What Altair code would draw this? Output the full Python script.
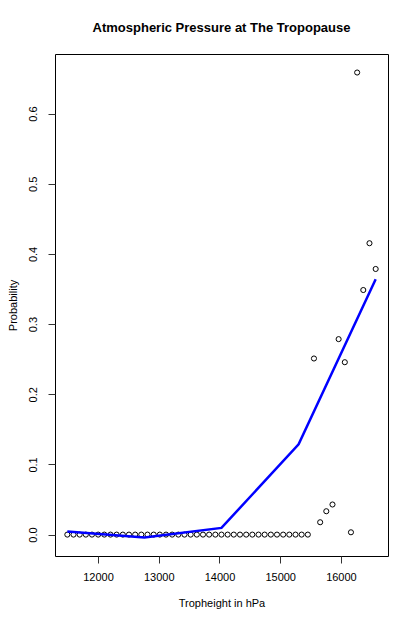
import altair as alt
import pandas as pd

# Observed points: tropopause height (x) and probability (y)
trop_height = [11495, 11597, 11698, 11800, 11901, 12003, 12104, 12206, 12307, 12409,
               12510, 12612, 12713, 12815, 12917, 13018, 13120, 13221, 13323, 13424,
               13526, 13627, 13729, 13830, 13932, 14033, 14135, 14236, 14338, 14440,
               14541, 14643, 14744, 14846, 14947, 15049, 15150, 15252, 15353, 15455,
               15556, 15658, 15759, 15861, 15962, 16064, 16165, 16267, 16368, 16470,
               16572]
probability = [0.0] * 40 + [0.251, 0.0176, 0.0333, 0.0429, 0.2786, 0.2457, 0.0033,
                            0.6586, 0.3486, 0.4153, 0.3786]

# Fitted curve (blue line)
fit_x = [11495, 12764, 14033, 15303, 16572]
fit_y = [0.0043, -0.004, 0.0096, 0.1286, 0.364]

x_ticks = [12000, 13000, 14000, 15000, 16000]
y_ticks = [0.0, 0.1, 0.2, 0.3, 0.4, 0.5, 0.6]

pts = pd.DataFrame({"x": trop_height, "y": probability})
fit = pd.DataFrame({"x": fit_x, "y": fit_y})

FONT = "Liberation Sans"

xscale = alt.Scale(domain=[11292, 16775], nice=False, zero=False)
yscale = alt.Scale(domain=[-0.0305, 0.685], nice=False, zero=False)

xaxis = alt.Axis(title="Tropheight in hPa", values=x_ticks, format="d", grid=False, domain=False,
                 tickSize=7, tickColor="#333333", labelPadding=8, labelFontSize=11,
                 labelFont=FONT, labelColor="#000000", titleFont=FONT, titleFontSize=11,
                 titleFontWeight="normal", titleColor="#000000", titlePadding=15,
                 labelFlush=False)
yaxis = alt.Axis(title="Probability", values=y_ticks, format=".1f", grid=False, domain=False,
                 tickSize=7, tickColor="#333333", labelPadding=10, labelFontSize=11,
                 labelFont=FONT, labelColor="#000000", labelAngle=270, labelAlign="center",
                 labelBaseline="bottom", titleFont=FONT, titleFontSize=11,
                 titleFontWeight="normal", titleColor="#000000", titlePadding=9,
                 labelFlush=False)

points = alt.Chart(pts).mark_point(shape="circle", filled=False, color="black",
                                   size=26, strokeWidth=1, opacity=1).encode(
    x=alt.X("x:Q", scale=xscale, axis=xaxis),
    y=alt.Y("y:Q", scale=yscale, axis=yaxis),
)

line = alt.Chart(fit).mark_line(color="#0000FF", strokeWidth=2.5).encode(
    x=alt.X("x:Q", scale=xscale),
    y=alt.Y("y:Q", scale=yscale),
)

chart = alt.layer(points, line).properties(
    width=333,
    height=502,
    title=alt.TitleParams("Atmospheric Pressure at The Tropopause", font=FONT,
                          fontSize=13, fontWeight="bold", color="#000000",
                          anchor="middle", offset=19),
    autosize=alt.AutoSizeParams(type="none"),
    padding={"left": 47, "top": 46, "right": 19, "bottom": 60},
    background="white",
).configure_view(stroke="#000000", strokeWidth=1)

chart.save("out.html", embed_options={"renderer": "svg", "actions": False})
